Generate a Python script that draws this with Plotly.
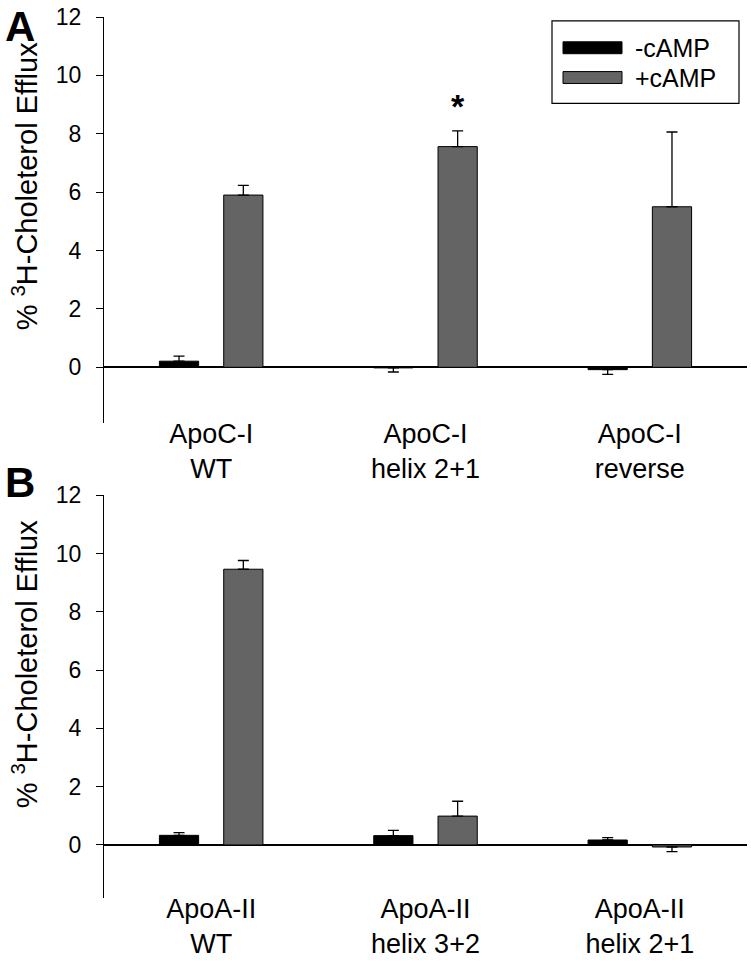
import plotly.graph_objects as go

# ---- data ----
series_names = ["-cAMP", "+cAMP"]
categories_A = ["ApoC-I<br>WT", "ApoC-I<br>helix 2+1", "ApoC-I<br>reverse"]
minus_A = [0.21, -0.02, -0.08]
minus_A_err = [0.17, 0.14, 0.16]
plus_A = [5.9, 7.56, 5.5]
plus_A_err = [0.33, 0.54, 2.56]

categories_B = ["ApoA-II<br>WT", "ApoA-II<br>helix 3+2", "ApoA-II<br>helix 2+1"]
minus_B = [0.33, 0.32, 0.17]
minus_B_err = [0.09, 0.18, 0.08]
plus_B = [9.46, 0.99, -0.07]
plus_B_err = [0.30, 0.51, 0.16]

y_ticks = [0, 2, 4, 6, 8, 10, 12]
star_value = 8.95

# ---- styling ----
FONT = "Liberation Sans, Arial, Helvetica, sans-serif"
COLORS = ["#000000", "#646464"]
W, H = 751, 963
L, R, T, B = 104, 4, 14, 61


def px(x):
    return (x - L) / (W - L - R)


def py(y):
    return (H - B - y) / (H - T - B)


def one_sided(vals, errs):
    up = [e if v >= 0 else 0 for v, e in zip(vals, errs)]
    down = [e if v < 0 else 0 for v, e in zip(vals, errs)]
    return up, down


fig = go.Figure()

panels = [
    (categories_A, [minus_A, plus_A], [minus_A_err, plus_A_err], "x", "y"),
    (categories_B, [minus_B, plus_B], [minus_B_err, plus_B_err], "x2", "y2"),
]
for cats, vals_list, errs_list, xa, ya in panels:
    for name, vals, errs, col in zip(series_names, vals_list, errs_list, COLORS):
        up, down = one_sided(vals, errs)
        fig.add_trace(go.Bar(
            x=cats, y=vals, name=name, xaxis=xa, yaxis=ya,
            marker=dict(color=col, line=dict(color="black", width=1)),
            error_y=dict(type="data", symmetric=False, array=up, arrayminus=down,
                         color="black", thickness=1.3, width=5.5),
            showlegend=False,
        ))

yax_common = dict(
    tickvals=y_ticks, ticks="outside", ticklen=7, tickwidth=1.3, tickcolor="black",
    showline=True, linecolor="black", linewidth=1.3, ticklabelstandoff=10,
    showgrid=False, zeroline=True, zerolinecolor="black", zerolinewidth=1.5,
    tickfont=dict(family=FONT, size=23, color="black"),
)
xax_common = dict(
    showline=False, showgrid=False, ticks="", range=[-0.5, 2.5], ticklabelstandoff=-8,
    tickfont=dict(family=FONT, size=27, color="black"),
)

fig.update_layout(
    width=W, height=H,
    margin=dict(l=L, r=R, t=T, b=B),
    paper_bgcolor="white", plot_bgcolor="white",
    barmode="group", bargap=0.40, bargroupgap=0.39,
    font=dict(family=FONT, color="black"),
    xaxis=dict(anchor="y", domain=[0, 1], **xax_common),
    yaxis=dict(anchor="x", domain=[py(423), 1], range=[-1.9, 12], **yax_common),
    xaxis2=dict(anchor="y2", domain=[0, 1], **xax_common),
    yaxis2=dict(anchor="x2", domain=[0, py(496)], range=[-1.82, 12], **yax_common),
)

annotations = []
# y-axis titles
for ya in ["y", "y2"]:
    annotations.append(dict(
        text="% <sup>3</sup>H-Choleterol Efflux", textangle=-90,
        xref="paper", yref=ya, x=px(25), y=6.2, xanchor="center", yanchor="middle",
        showarrow=False, font=dict(family=FONT, size=29, color="black"),
    ))
# panel letters
annotations.append(dict(text="<b>A</b>", xref="paper", yref="paper", x=px(4), y=py(-1),
                        xanchor="left", yanchor="top", showarrow=False, borderpad=0,
                        font=dict(family=FONT, size=42, color="black")))
annotations.append(dict(text="<b>B</b>", xref="paper", yref="paper", x=px(4), y=py(459),
                        xanchor="left", yanchor="top", showarrow=False, borderpad=0,
                        font=dict(family=FONT, size=42, color="black")))
# significance star
annotations.append(dict(text="<b>*</b>", xref="x", yref="y", x=categories_A[1], y=star_value,
                        xshift=32, xanchor="center", yanchor="middle", showarrow=False,
                        font=dict(family=FONT, size=34, color="black")))

# legend (drawn manually for wide swatches)
shapes = [
    dict(type="rect", xref="paper", yref="paper", x0=px(552), x1=px(739), y0=py(101), y1=py(18),
         line=dict(color="black", width=1.2), fillcolor="rgba(0,0,0,0)"),
]
legend_rows = [45, 75]
for name, col, yc in zip(series_names, COLORS, legend_rows):
    shapes.append(dict(type="rect", xref="paper", yref="paper",
                       x0=px(563), x1=px(622), y0=py(yc + 6), y1=py(yc - 6),
                       line=dict(color="black", width=1), fillcolor=col))
    annotations.append(dict(text=name, xref="paper", yref="paper", x=px(633), y=py(yc),
                            xanchor="left", yanchor="middle", showarrow=False,
                            font=dict(family=FONT, size=25, color="black")))

fig.update_layout(annotations=annotations, shapes=shapes)

fig.write_html("out.html", config={"displayModeBar": False},
               post_script="document.body.style.margin='0px';document.body.style.overflow='hidden';")
